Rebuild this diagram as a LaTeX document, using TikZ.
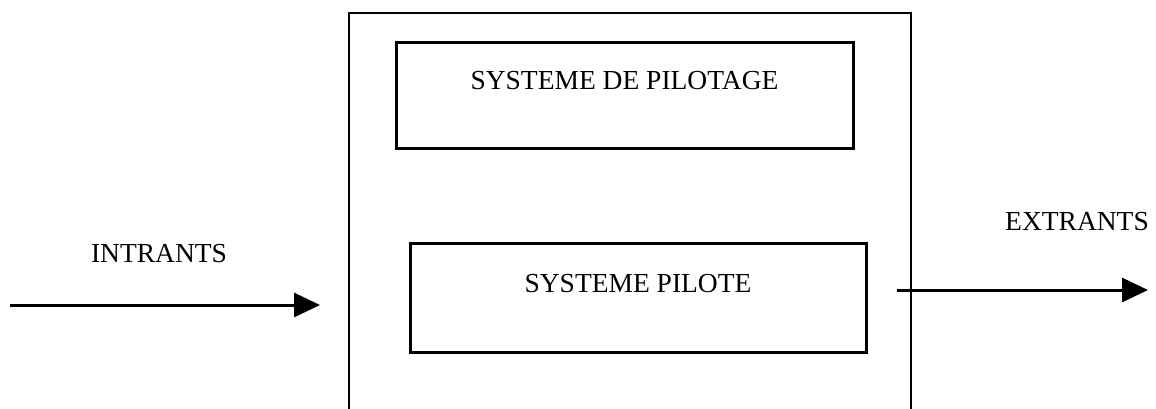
\documentclass[tikz,border=0pt]{standalone}
\usepackage{fontspec}
\setmainfont{Liberation Serif}
\usetikzlibrary{arrows.meta,positioning}

\begin{document}
\begin{tikzpicture}[
    x=0.5pt, y=-0.5pt,
    >={Triangle[length=13pt,width=12pt]},
    every node/.style={font=\fontsize{13.75}{16}\selectfont},
    frame/.style={
        draw=black,
        line width=1.3pt,
        minimum width=281pt,
        minimum height=208.5pt,
        inner sep=0pt
    },
    box/.style={
        draw=black,
        line width=1.5pt,
        align=center,
        inner sep=0pt
    },
    flow/.style={
        ->,
        line width=1.5pt,
        draw=black
    },
    tag/.style={
        anchor=base
    }
]
\useasboundingbox (0,0) rectangle (1156,408);

% enveloppe du systeme
\node[frame] (systeme) at (630,221.5) {};

\node[box, minimum width=228.5pt, text height=23.5pt, text depth=29.5pt]
    (pilotage) at (624.5,95) {SYSTEME DE PILOTAGE};
\node[box, minimum width=228pt, text height=24.5pt, text depth=30pt]
    (pilote) at (638,297.5) {SYSTEME PILOTE};

% flux
\coordinate (in start) at (10,305);
\coordinate (in end) at (320,305);
\coordinate (out start) at (897,290);
\coordinate (out end) at (1148,290);

\draw[flow] (in start) -- (in end);
\draw[flow] (out start) -- (out end);

\node[tag] (intrants) at (159,262) {INTRANTS};
\node[tag] (extrants) at (1077,230) {EXTRANTS};
\end{tikzpicture}
\end{document}
